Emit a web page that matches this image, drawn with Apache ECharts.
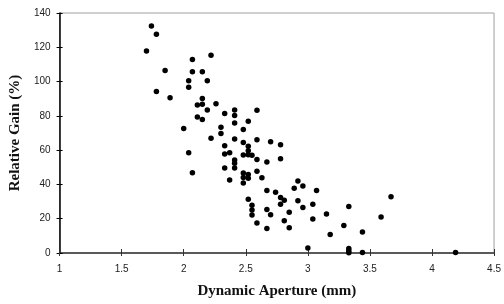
<!DOCTYPE html>
<html>
<head>
<meta charset="utf-8">
<script src="https://cdn.jsdelivr.net/npm/echarts@6/dist/echarts.min.js"></script>
<style>
  html, body { margin: 0; padding: 0; background: #fff; }
  #chart { width: 504px; height: 304px; }
</style>
</head>
<body>
<div id="chart"></div>
<script>
  // dynamic aperture (mm) vs relative gain (%)
  const aperture = [
    1.74, 1.78, 1.70, 1.85, 1.78, 1.89, 2.22, 2.07, 2.07, 2.15,
    2.04, 2.19, 2.04, 2.15, 2.11, 2.15, 2.26, 2.19, 2.41, 2.59,
    2.33, 2.41, 2.11, 2.15, 2.52, 2.41, 2.00, 2.30, 2.48, 2.30,
    2.22, 2.41, 2.59, 2.70, 2.78, 2.33, 2.48, 2.52, 2.04, 2.33,
    2.37, 2.48, 2.52, 2.52, 2.55, 2.59, 2.78, 2.41, 2.41, 2.67,
    2.33, 2.41, 2.07, 2.59, 2.48, 2.52, 2.48, 2.52, 2.48, 2.63,
    2.37, 2.92, 2.96, 2.89, 3.07, 2.67, 2.74, 2.78, 2.81, 2.78,
    2.92, 2.52, 2.55, 3.04, 2.96, 2.55, 2.67, 2.70, 2.85, 2.55,
    2.81, 3.04, 2.59, 2.67, 2.85, 3.00, 3.67, 3.33, 3.15, 3.59,
    3.29, 3.18, 3.44, 3.33, 3.33, 3.33, 3.44, 4.19
  ];
  const gain = [
    132.4, 127.6, 117.8, 106.4, 94.2, 90.5, 115.4, 112.9, 105.8, 105.8,
    100.5, 100.5, 96.7, 90.1, 86.3, 86.7, 87.1, 83.4, 83.4, 83.3,
    81.4, 80.2, 79.4, 77.9, 76.8, 75.8, 72.6, 73.4, 72.0, 69.7,
    67.0, 66.5, 66.1, 64.9, 63.2, 62.6, 64.5, 62.3, 58.5, 57.7,
    58.5, 57.2, 59.6, 57.3, 57.0, 54.6, 55.0, 54.3, 52.3, 53.1,
    49.6, 49.6, 46.8, 47.7, 46.7, 45.8, 44.0, 43.6, 40.9, 43.9,
    42.6, 42.0, 39.1, 37.7, 36.4, 36.4, 35.5, 32.4, 30.7, 28.5,
    30.5, 31.3, 27.9, 28.5, 26.5, 25.1, 25.4, 22.3, 23.8, 22.2,
    18.8, 19.8, 17.5, 14.3, 14.7, 2.9, 32.8, 27.1, 22.7, 21.0,
    16.0, 10.8, 12.2, 2.6, 1.3, 0.2, 0.3, 0.3
  ];
  const xTicks = [1, 1.5, 2, 2.5, 3, 3.5, 4, 4.5];
  const yTicks = [0, 20, 40, 60, 80, 100, 120, 140];

  const chart = echarts.init(document.getElementById('chart'));

  const points = aperture.map((a, i) => [a, gain[i]]);
  const labelFont = { color: '#222', fontFamily: 'Liberation Sans', fontSize: 10 };
  const titleFont = { color: '#111', fontFamily: 'Liberation Serif', fontSize: 15, fontWeight: 'bold' };

  chart.setOption({
    animation: false,
    grid: {
      left: 54, right: 6, top: 13, bottom: 47,
      show: true, borderColor: '#a0a0a0', borderWidth: 1
    },
    xAxis: [
      {
        type: 'value', min: xTicks[0], max: xTicks[xTicks.length - 1], interval: 0.5,
        name: 'Dynamic Aperture (mm)', nameLocation: 'middle', nameGap: 31,
        nameTextStyle: titleFont,
        axisLine: { lineStyle: { color: '#333', width: 1.5 } },
        axisTick: { length: 3, lineStyle: { color: '#333' } },
        axisLabel: Object.assign({ margin: 11 }, labelFont),
        splitLine: { show: false }
      },
      {
        type: 'value', min: xTicks[0], max: xTicks[xTicks.length - 1], interval: 0.5,
        position: 'bottom',
        axisLine: { show: false },
        axisTick: { inside: true, length: 4, lineStyle: { color: '#333' } },
        axisLabel: { show: false },
        splitLine: { show: false }
      }
    ],
    yAxis: [
      {
        type: 'value', min: yTicks[0], max: yTicks[yTicks.length - 1], interval: 20,
        name: 'Relative Gain (%)', nameLocation: 'middle', nameGap: 30,
        nameTextStyle: titleFont,
        axisLine: { show: true, lineStyle: { color: '#000', width: 1.5 } },
        axisTick: { show: true, length: 3, lineStyle: { color: '#000' } },
        axisLabel: Object.assign({ margin: 9 }, labelFont),
        splitLine: { show: false }
      },
      {
        type: 'value', min: yTicks[0], max: yTicks[yTicks.length - 1], interval: 20,
        position: 'left',
        axisLine: { show: false },
        axisTick: { show: true, inside: true, length: 3, lineStyle: { color: '#000' } },
        axisLabel: { show: false },
        splitLine: { show: false }
      }
    ],
    series: [{
      type: 'scatter',
      data: points,
      symbolSize: 5.5,
      itemStyle: { color: '#000', opacity: 1 }
    }]
  });
</script>
</body>
</html>
